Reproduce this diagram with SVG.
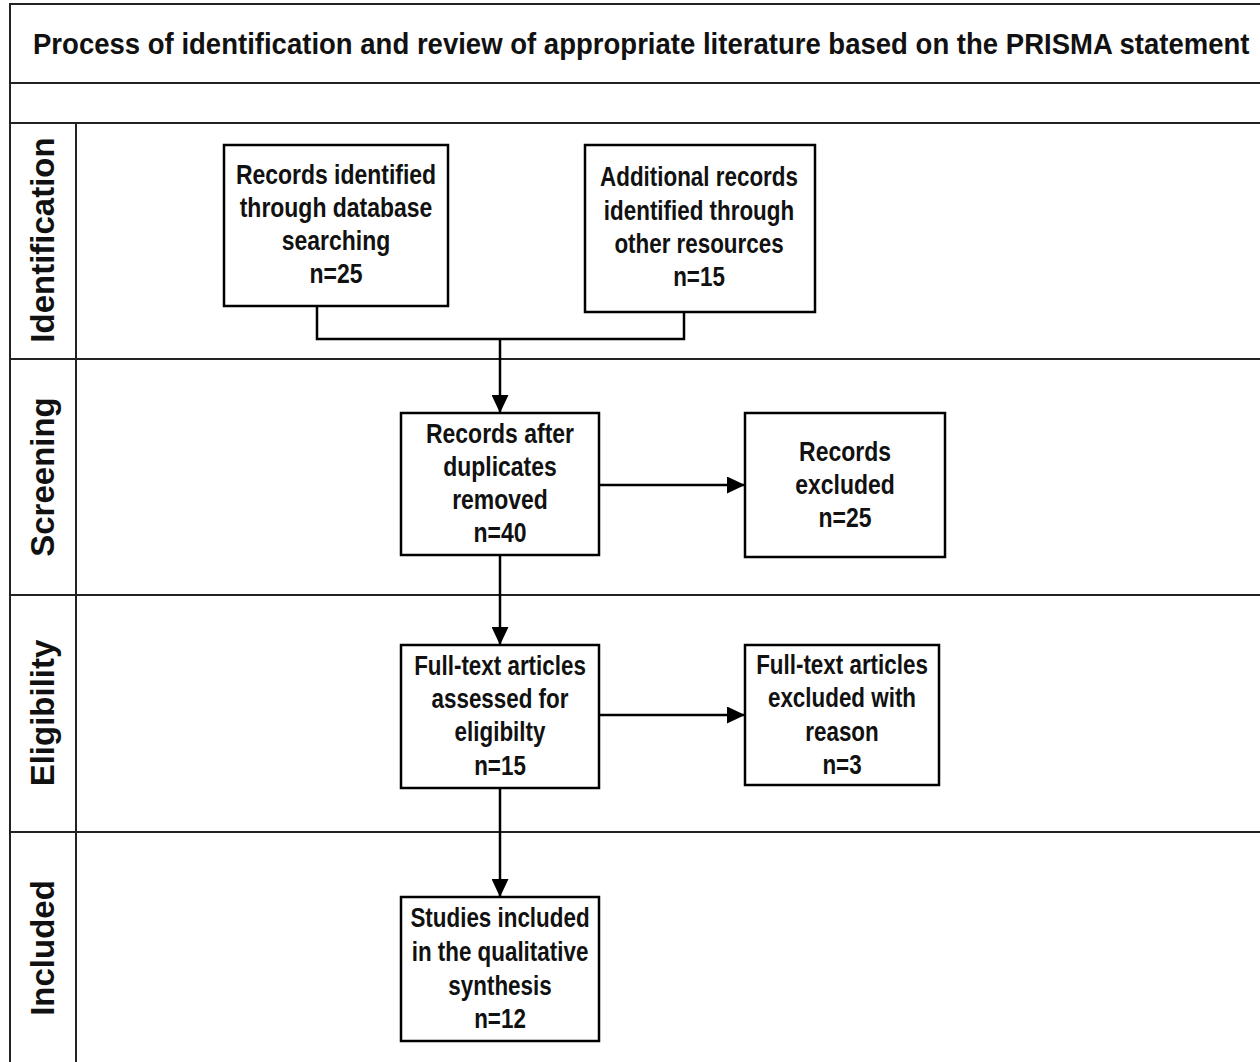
<svg xmlns="http://www.w3.org/2000/svg" width="1260" height="1062" viewBox="0 0 1260 1062">
<style>
.frame{fill:none;stroke:#222;stroke-width:2}
.box{fill:#fff;stroke:#000;stroke-width:2.5}
.conn{fill:none;stroke:#000;stroke-width:2.5}
.t{font-family:"Liberation Sans",Arial,sans-serif;font-weight:bold;font-size:28px;fill:#111;text-anchor:middle}
.lane{font-family:"Liberation Sans",Arial,sans-serif;font-weight:bold;font-size:33px;fill:#111;text-anchor:middle}
.title{font-family:"Liberation Sans",Arial,sans-serif;font-weight:bold;font-size:30px;fill:#111}
</style>
<defs>
<marker id="ah" markerWidth="18" markerHeight="17" refX="18" refY="8.5" orient="auto" markerUnits="userSpaceOnUse">
<path d="M0,0 L18,8.5 L0,17 Z" fill="#000"/>
</marker>
</defs>
<rect width="1260" height="1062" fill="#fff"/>
<g id="frame">
<path class="frame" d="M1262,4 H10 V1064 M10,83 H1262 M10,123 H1262 M10,359 H1262 M10,595 H1262 M10,832 H1262 M76,123 V1064"/>
<text class="title" transform="translate(33,54) scale(0.918,1)">Process of identification and review of appropriate literature based on the PRISMA statement</text>
</g>
<g id="lanes">
<text class="lane" transform="translate(54,240) rotate(-90)">Identification</text>
<text class="lane" transform="translate(54,477) rotate(-90)">Screening</text>
<text class="lane" transform="translate(54,713) rotate(-90)">Eligibility</text>
<text class="lane" transform="translate(54,948) rotate(-90)">Included</text>
</g>
<g id="connectors">
<path class="conn" d="M317,306 V339 H684 V312"/>
<path class="conn" d="M500,339 V413" marker-end="url(#ah)"/>
<path class="conn" d="M599,485 H745" marker-end="url(#ah)"/>
<path class="conn" d="M500,555 V645" marker-end="url(#ah)"/>
<path class="conn" d="M599,715 H745" marker-end="url(#ah)"/>
<path class="conn" d="M500,788 V897" marker-end="url(#ah)"/>
</g>
<g id="n1">
<rect class="box" x="224" y="145" width="224" height="161"/>
<g transform="translate(336,0) scale(0.82,1)">
<text class="t" x="0" y="184">Records identified</text>
<text class="t" x="0" y="217">through database</text>
<text class="t" x="0" y="250">searching</text>
<text class="t" x="0" y="283">n=25</text>
</g>
</g>
<g id="n2">
<rect class="box" x="585" y="145" width="230" height="167"/>
<g transform="translate(699,0) scale(0.8,1)">
<text class="t" x="0" y="186">Additional records</text>
<text class="t" x="0" y="220">identified through</text>
<text class="t" x="0" y="253">other resources</text>
<text class="t" x="0" y="286">n=15</text>
</g>
</g>
<g id="n3">
<rect class="box" x="401" y="413" width="198" height="142"/>
<g transform="translate(500,0) scale(0.82,1)">
<text class="t" x="0" y="443">Records after</text>
<text class="t" x="0" y="476">duplicates</text>
<text class="t" x="0" y="509">removed</text>
<text class="t" x="0" y="542">n=40</text>
</g>
</g>
<g id="n4">
<rect class="box" x="745" y="413" width="200" height="144"/>
<g transform="translate(845,0) scale(0.82,1)">
<text class="t" x="0" y="461">Records</text>
<text class="t" x="0" y="494">excluded</text>
<text class="t" x="0" y="527">n=25</text>
</g>
</g>
<g id="n5">
<rect class="box" x="401" y="645" width="198" height="143"/>
<g transform="translate(500,0) scale(0.8,1)">
<text class="t" x="0" y="675">Full-text articles</text>
<text class="t" x="0" y="708">assessed for</text>
<text class="t" x="0" y="741">eligibilty</text>
<text class="t" x="0" y="775">n=15</text>
</g>
</g>
<g id="n6">
<rect class="box" x="745" y="645" width="194" height="140"/>
<g transform="translate(842,0) scale(0.8,1)">
<text class="t" x="0" y="674">Full-text articles</text>
<text class="t" x="0" y="707">excluded with</text>
<text class="t" x="0" y="741">reason</text>
<text class="t" x="0" y="774">n=3</text>
</g>
</g>
<g id="n7">
<rect class="box" x="401" y="897" width="198" height="144"/>
<g transform="translate(500,0) scale(0.8,1)">
<text class="t" x="0" y="927">Studies included</text>
<text class="t" x="0" y="961">in the qualitative</text>
<text class="t" x="0" y="995">synthesis</text>
<text class="t" x="0" y="1028">n=12</text>
</g>
</g>
</svg>
